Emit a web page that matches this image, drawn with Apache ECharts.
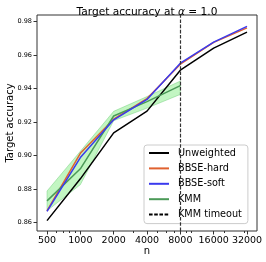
<!DOCTYPE html>
<html><head><meta charset="utf-8">
<script src="https://cdn.jsdelivr.net/npm/echarts@6/dist/echarts.min.js"></script>
<style>html,body{margin:0;padding:0;background:#fff}#c{width:266px;height:262px}</style>
</head><body><div id="c"></div>
<script>
const nValues = [500, 1000, 2000, 4000, 8000, 16000, 32000];
const xTickLabels = ['500', '1000', '2000', '4000', '8000', '16000', '32000'];
const minorTicks = [600, 700, 800, 900, 3000, 5000, 6000, 7000, 9000, 10000, 20000, 30000];
const yTicks = [0.86, 0.88, 0.90, 0.92, 0.94, 0.96, 0.98];
const unweighted = [0.861, 0.886, 0.9135, 0.9265, 0.951, 0.9642, 0.9738];
const bbseHard = [0.8668, 0.9013, 0.9217, 0.934, 0.9546, 0.9676, 0.9763];
const bbseSoft = [0.8665, 0.8987, 0.9213, 0.9335, 0.9552, 0.9678, 0.9772];
const kmmN = [500, 1000, 2000, 4000, 8000];
const kmm = [0.8728, 0.8920, 0.9236, 0.9322, 0.9418];
const kmmLow = [0.8669, 0.8825, 0.9208, 0.9283, 0.9365];
const kmmHigh = [0.8787, 0.9025, 0.9264, 0.9352, 0.9445];
const timeoutN = 8000;

const font = 'DejaVu Sans';
const pair = (xs, ys) => xs.map((x, i) => [x, ys[i]]);
const xMin = 406, xMax = 39400;
const yMin = 0.8548, yMax = 0.984;

const chart = echarts.init(document.getElementById('c'), null, {renderer: 'canvas'});
const baseX = {
  type: 'log', logBase: 2, min: xMin, max: xMax, gridIndex: 0,
  splitLine: {show: false}, axisLine: {show: false}
};
const bandData = kmmN.map((n, i) => [n, kmmLow[i], kmmHigh[i]]);
chart.setOption({
  animation: false,
  title: {
    text: '{a|Target accuracy at }{i|α}{a| = 1.0}',
    left: 142, top: 2, textAlign: 'center',
    textStyle: {fontWeight: 'normal', rich: {
      a: {fontFamily: font, fontSize: 10.6, color: '#000', fontWeight: 'normal'},
      i: {fontFamily: font, fontSize: 10.6, color: '#000', fontStyle: 'italic', fontWeight: 'normal'}
    }}
  },
  grid: {left: 37, right: 9, top: 15, bottom: 31, show: true, borderColor: '#333', borderWidth: 1,
    backgroundColor: 'transparent', containLabel: false, outerBoundsMode: 'none'},
  legend: {
    left: 144, top: 145, orient: 'vertical',
    data: ['Unweighted', 'BBSE-hard', 'BBSE-soft', 'KMM', 'KMM timeout'],
    itemWidth: 20, itemHeight: 10, itemGap: 5.4,
    padding: [3, 6, 4, 4],
    backgroundColor: 'rgba(255,255,255,0.8)', borderColor: '#ccc', borderWidth: 1, borderRadius: 3,
    itemStyle: {opacity: 0},
    textStyle: {fontFamily: font, fontSize: 9.7, color: '#000', padding: [0, 0, 0, 4]}
  },
  xAxis: [
    Object.assign({}, baseX, {
      name: 'n', nameLocation: 'middle', nameGap: 15, nameMoveOverlap: false,
      nameTextStyle: {fontFamily: font, fontSize: 10, color: '#000'},
      axisTick: {show: true, length: 3.5, lineStyle: {color: '#333'}, customValues: nValues},
      axisLabel: {fontFamily: font, fontSize: 9.5, color: '#000', margin: 5,
        customValues: nValues,
        formatter: v => xTickLabels[nValues.indexOf(Math.round(v))] || ''}
    }),
    Object.assign({}, baseX, {
      position: 'bottom',
      axisTick: {show: true, length: 2, lineStyle: {color: '#333'}, customValues: minorTicks},
      axisLabel: {show: false, customValues: minorTicks}
    })
  ],
  yAxis: {
    type: 'value', min: yMin, max: yMax,
    splitLine: {show: false}, axisLine: {show: false},
    name: 'Target accuracy', nameLocation: 'middle', nameGap: 22, nameMoveOverlap: false,
    nameTextStyle: {fontFamily: font, fontSize: 10, color: '#000'},
    axisTick: {show: true, length: 3.5, lineStyle: {color: '#333'}, customValues: yTicks},
    axisLabel: {fontFamily: font, fontSize: 6.5, color: '#000', margin: 5,
      customValues: yTicks, formatter: v => v.toFixed(2)}
  },
  series: [
    {name: 'band', type: 'custom', data: bandData, z: 1, silent: true,
     encode: {x: 0, y: [1, 2]},
     renderItem: (params, api) => {
       if (params.dataIndex !== 0) return null;
       const top = bandData.map(d => api.coord([d[0], d[2]]));
       const bot = bandData.map(d => api.coord([d[0], d[1]])).reverse();
       return {type: 'polygon', shape: {points: top.concat(bot)},
         style: {fill: 'rgba(144,238,144,0.55)', stroke: 'rgba(80,190,95,0.45)', lineWidth: 0.8}};
     }},
    {name: 'Unweighted', type: 'line', data: pair(nValues, unweighted), symbol: 'none',
     color: '#000', lineStyle: {color: '#000', width: 1.5}, z: 3},
    {name: 'BBSE-hard', type: 'line', data: pair(nValues, bbseHard), symbol: 'none',
     color: '#e0612f', lineStyle: {color: '#e0612f', width: 1.5}, z: 3},
    {name: 'BBSE-soft', type: 'line', data: pair(nValues, bbseSoft), symbol: 'none',
     color: '#3a3aee', lineStyle: {color: '#3a3aee', width: 1.5}, z: 4},
    {name: 'KMM', type: 'line', data: pair(kmmN, kmm), symbol: 'none',
     color: '#4b9a58', lineStyle: {color: '#4b9a58', width: 1.5}, z: 3},
    {name: 'KMM timeout', type: 'line', data: [], symbol: 'none',
     color: '#000', lineStyle: {color: '#000', width: 1.2, type: [3.6, 1.6]}, z: 2,
     markLine: {silent: true, symbol: 'none', label: {show: false},
       lineStyle: {color: '#333', width: 1.2, type: [3.6, 1.6]},
       data: [{xAxis: timeoutN}]}}
  ]
});
</script></body></html>
